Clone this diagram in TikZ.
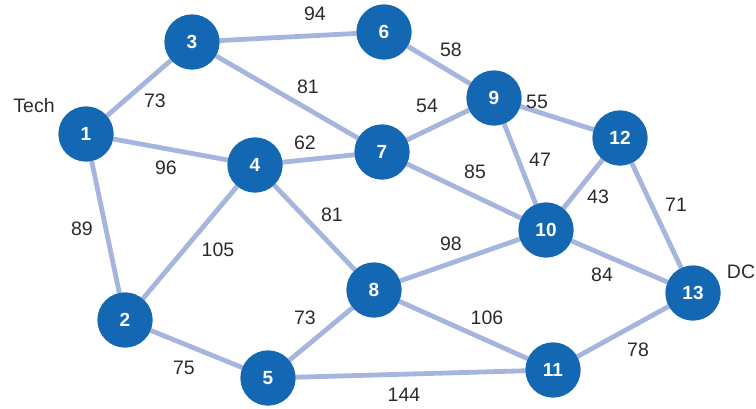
\documentclass[tikz,border=0pt]{standalone}
\usepackage{fontspec}
\setmainfont{Liberation Sans}
\usepackage{tikz}
\definecolor{nodeblue}{HTML}{1468B3}
\definecolor{edgeblue}{HTML}{A5B5DD}
\definecolor{txtgray}{HTML}{2B2B2B}
\tikzset{vx/.style={circle,fill=nodeblue,text=white,inner sep=0pt,minimum size=55pt,font=\fontsize{19}{21}\selectfont\bfseries},
  ed/.style={edgeblue,line width=4.8pt},
  wt/.style={text=txtgray,inner sep=0pt,font=\fontsize{19.5}{21}\selectfont}}

\begin{document}
\begin{tikzpicture}[x=1pt,y=-1pt]
\useasboundingbox (0,0) rectangle (756,408);
% vertices
\node[vx] (v1) at (86,134) {1};
\node[vx] (v2) at (125,320) {2};
\node[vx] (v3) at (192,42) {3};
\node[vx] (v4) at (255,165) {4};
\node[vx] (v5) at (268,378) {5};
\node[vx] (v6) at (384,32) {6};
\node[vx] (v7) at (382,152) {7};
\node[vx] (v8) at (374,290) {8};
\node[vx] (v9) at (494,98) {9};
\node[vx] (v10) at (546,230) {10};
\node[vx] (v11) at (553,370) {11};
\node[vx] (v12) at (620,138) {12};
\node[vx] (v13) at (693,293) {13};
% edges
\foreach \a/\b in {1/3,1/4,1/2,3/6,3/7,6/9,4/7,4/2,4/8,7/9,7/10,9/12,9/10,12/10,12/13,10/8,10/13,8/5,8/11,2/5,5/11,11/13}
  \draw[ed] (v\a.center) -- (v\b.center);
% redraw vertices on top
\foreach \n in {1,...,13} \node[vx] at (v\n) {\n};
% weights
\node[wt] (w1) at (315,14) {94};
\node[wt] (w2) at (451,50) {58};
\node[wt] (w3) at (155,101) {73};
\node[wt] (w4) at (308,87) {81};
\node[wt] (w5) at (427,106) {54};
\node[wt] (w6) at (537,102) {55};
\node[wt] (w7) at (305,143) {62};
\node[wt] (w8) at (166,168) {96};
\node[wt] (w9) at (475,172) {85};
\node[wt] (w10) at (540,160) {47};
\node[wt] (w11) at (598,197) {43};
\node[wt] (w12) at (676,205) {71};
\node[wt] (w13) at (332,215) {81};
\node[wt] (w14) at (451,244) {98};
\node[wt] (w15) at (82,229) {89};
\node[wt] (w16) at (218,250) {105};
\node[wt] (w17) at (602,275) {84};
\node[wt] (w18) at (305,318) {73};
\node[wt] (w19) at (487,318) {106};
\node[wt] (w20) at (184,368) {75};
\node[wt] (w21) at (638,350) {78};
\node[wt] (w22) at (404,395) {144};
% terminals
\node[wt] (tech) at (34,106) {Tech};
\node[wt] (dc) at (741,272) {DC};
\end{tikzpicture}
\end{document}
